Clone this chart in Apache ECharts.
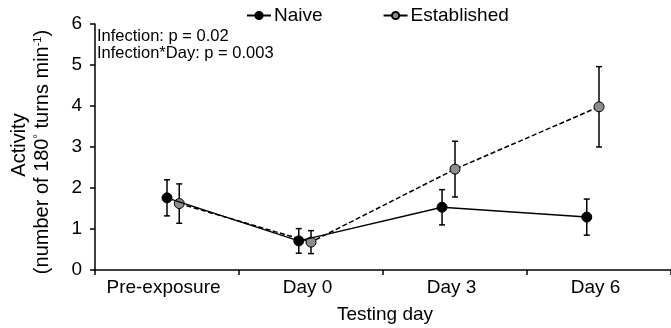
<!DOCTYPE html>
<html>
<head>
<meta charset="utf-8">
<script src="https://cdn.jsdelivr.net/npm/echarts@6/dist/echarts.min.js"></script>
<style>
  html, body { margin: 0; padding: 0; background: #fff; }
  #chart { width: 671px; height: 328px; }
</style>
</head>
<body>
<div id="chart"></div>
<script>
// Testing days and group means with standard errors
const days = ['Pre-exposure', 'Day 0', 'Day 3', 'Day 6'];
const naiveMean = [1.76, 0.71, 1.53, 1.29];
const naiveSE = [0.44, 0.30, 0.43, 0.44];
const establishedMean = [1.62, 0.68, 2.46, 3.98];
const establishedSE = [0.48, 0.28, 0.68, 0.98];
const yMin = 0, yMax = 6, yStep = 1;
const pValueNotes = ['Infection: p = 0.02', 'Infection*Day: p = 0.003'];

// Horizontal dodge of each group within its day (in day units)
const naiveDodge = [0, -0.085, -0.09, -0.085];
const establishedDodge = [0.085, 0, 0, 0];

const FONT = '"Liberation Sans", Arial, sans-serif';

function points(means, dodge) {
  return means.map((m, i) => [i + 0.5 + dodge[i], m]);
}
function bars(means, se, dodge) {
  return means.map((m, i) => [i + 0.5 + dodge[i], m - se[i], m + se[i]]);
}

function errorBar(params, api) {
  const x = api.value(0);
  const top = api.coord([x, api.value(2)]);
  const bot = api.coord([x, api.value(1)]);
  const half = 3;
  const st = { stroke: '#000', lineWidth: 1.5 };
  return {
    type: 'group',
    children: [
      { type: 'line', shape: { x1: top[0], y1: top[1], x2: bot[0], y2: bot[1] }, style: st },
      { type: 'line', shape: { x1: top[0] - half, y1: top[1], x2: top[0] + half, y2: top[1] }, style: st },
      { type: 'line', shape: { x1: bot[0] - half, y1: bot[1], x2: bot[0] + half, y2: bot[1] }, style: st }
    ]
  };
}

const chart = echarts.init(document.getElementById('chart'), null, { renderer: 'canvas' });

chart.setOption({
  animation: false,
  backgroundColor: '#fff',
  textStyle: { fontFamily: FONT },
  grid: { left: 95, top: 24, width: 582, height: 246, containLabel: false },
  legend: {
    left: 246, top: 6, padding: 0,
    itemWidth: 24, itemHeight: 9, itemGap: 60,
    textStyle: { fontFamily: FONT, fontSize: 19, color: '#000', padding: [0, 0, 0, -2] },
    data: [
      { name: 'Naive' },
      { name: 'Established', lineStyle: { type: 'solid' } }
    ]
  },
  xAxis: [
    { type: 'value', min: 0, max: 4, show: false },
    {
      type: 'category', data: days, position: 'bottom',
      axisLine: { lineStyle: { color: '#000', width: 1.5 } },
      axisTick: { show: true, interval: 0, length: 5, inside: false, lineStyle: { color: '#000', width: 1.5 } },
      axisLabel: { interval: 0, hideOverlap: false, color: '#000', fontSize: 19, fontFamily: FONT, margin: 8, padding: [0, 7, 0, 0] },
      splitLine: { show: false }
    }
  ],
  yAxis: {
    type: 'value', min: yMin, max: yMax, interval: yStep,
    axisLine: { show: true, lineStyle: { color: '#000', width: 1.5 } },
    axisTick: { show: true, length: 5, lineStyle: { color: '#000', width: 1.5 } },
    axisLabel: { color: '#000', fontSize: 19, fontFamily: FONT, margin: 13 },
    splitLine: { show: false }
  },
  graphic: [
    {
      type: 'text', left: 97, top: 28, z: 10,
      style: { text: pValueNotes[0], font: '16.5px ' + FONT, fill: '#000' }
    },
    {
      type: 'text', left: 97, top: 45, z: 10,
      style: { text: pValueNotes[1], font: '16.5px ' + FONT, fill: '#000' }
    },
    {
      type: 'text', x: 385, y: 315, z: 10,
      style: { text: 'Testing day', font: '19px ' + FONT, fill: '#000', align: 'center', verticalAlign: 'middle' }
    },
    {
      type: 'text', x: 19, y: 145, rotation: Math.PI / 2, z: 10,
      style: { text: 'Activity', font: '20px ' + FONT, fill: '#000', align: 'center', verticalAlign: 'middle' }
    },
    {
      type: 'text', x: 42, y: 152, rotation: Math.PI / 2, z: 10,
      style: {
        text: '{t|(number of 180}{s|°}{t| turns min}{s|-1}{t|)}',
        align: 'center', verticalAlign: 'middle',
        rich: {
          t: { fontSize: 20, fontFamily: FONT, fill: '#000', color: '#000' },
          s: { fontSize: 11, fontFamily: FONT, fill: '#000', color: '#000', verticalAlign: 'top', padding: [0, 0, 9, 0] }
        }
      }
    }
  ],
  series: [
    {
      name: 'Naive-err', type: 'custom', xAxisIndex: 0, z: 2,
      renderItem: errorBar, encode: { x: 0, y: [1, 2] },
      data: bars(naiveMean, naiveSE, naiveDodge), silent: true
    },
    {
      name: 'Established-err', type: 'custom', xAxisIndex: 0, z: 2,
      renderItem: errorBar, encode: { x: 0, y: [1, 2] },
      data: bars(establishedMean, establishedSE, establishedDodge), silent: true
    },
    {
      name: 'Naive', type: 'line', xAxisIndex: 0, z: 4,
      data: points(naiveMean, naiveDodge),
      symbol: 'circle', symbolSize: 10,
      itemStyle: { color: '#000', borderColor: '#000', borderWidth: 1 },
      lineStyle: { color: '#000', width: 1.5 }
    },
    {
      name: 'Established', type: 'line', xAxisIndex: 0, z: 3,
      data: points(establishedMean, establishedDodge),
      symbol: 'circle', symbolSize: 10,
      itemStyle: { color: '#8c8c8c', borderColor: '#000', borderWidth: 1 },
      lineStyle: { color: '#000', width: 1.5, type: [5, 2.5] }
    }
  ]
});
</script>
</body>
</html>
